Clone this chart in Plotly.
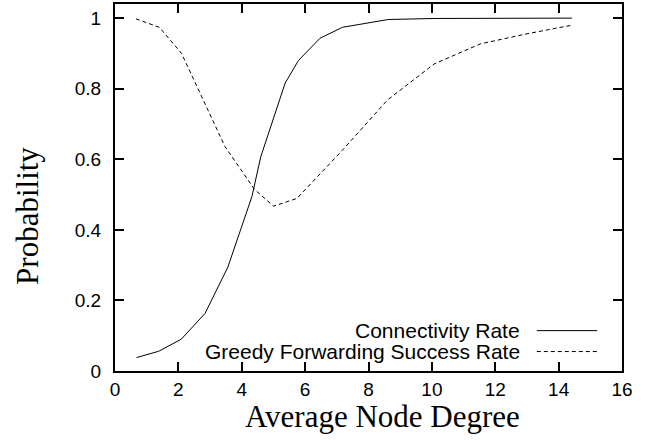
import plotly.graph_objects as go

# Connectivity Rate (solid)
conn_x = [0.68, 1.38, 2.09, 2.84, 3.56, 4.32, 4.6, 5.37, 5.79, 6.47, 7.18, 8.62, 10.07, 11.53, 12.97, 14.42]
conn_y = [0.038, 0.056, 0.090, 0.163, 0.294, 0.494, 0.607, 0.816, 0.880, 0.943, 0.974, 0.996, 0.999, 1.0, 1.0, 1.0]

# Greedy Forwarding Success Rate (dashed)
greedy_x = [0.66, 1.40, 2.10, 3.47, 4.40, 5.00, 5.74, 7.17, 8.60, 10.07, 11.53, 12.97, 14.42]
greedy_y = [0.998, 0.974, 0.900, 0.636, 0.515, 0.467, 0.489, 0.625, 0.768, 0.870, 0.927, 0.955, 0.980]

x_ticks = [0, 2, 4, 6, 8, 10, 12, 14, 16]
y_ticks = [0, 0.2, 0.4, 0.6, 0.8, 1]
y_tick_labels = ["0", "0.2", "0.4", "0.6", "0.8", "1"]

series_names = ["Connectivity Rate", "Greedy Forwarding Success Rate"]
x_title = "Average Node Degree"
y_title = "Probability"

fig = go.Figure()
fig.add_trace(go.Scatter(x=conn_x, y=conn_y, mode="lines", name=series_names[0],
                         line=dict(color="black", width=1)))
fig.add_trace(go.Scatter(x=greedy_x, y=greedy_y, mode="lines", name=series_names[1],
                         line=dict(color="black", width=1, dash="4px,3px")))

axis_common = dict(showgrid=False, zeroline=False, showline=True, linecolor="black",
                   linewidth=2, mirror="allticks", ticks="inside", ticklen=9,
                   tickwidth=1.5, tickcolor="black", automargin=False,
                   tickfont=dict(family="Liberation Sans, Arial, sans-serif", size=19, color="black"))

fig.update_xaxes(range=[0, 16], tickvals=x_ticks, ticktext=[str(t) for t in x_ticks],
                 ticklabelstandoff=0, **axis_common)
fig.update_yaxes(range=[0, 1.04], tickvals=y_ticks, ticktext=y_tick_labels,
                 ticklabelstandoff=8, **axis_common)

title_font = dict(family="Liberation Serif, Times New Roman, serif", size=31, color="black")
fig.add_annotation(x=0.528, y=-0.124, xref="paper", yref="paper", text=x_title,
                   showarrow=False, xanchor="center", yanchor="middle", font=title_font)
fig.add_annotation(x=-0.174, y=0.422, xref="paper", yref="paper", text=y_title,
                   showarrow=False, xanchor="center", yanchor="middle", textangle=-90,
                   font=title_font)

# legend drawn gnuplot-style: right-aligned text with line sample to the right
leg_rows = [0.110, 0.053]
dashes = ["solid", "4px,3px"]
for name, yy, dsh in zip(series_names, leg_rows, dashes):
    fig.add_annotation(x=0.802, y=yy, xref="paper", yref="paper", text=name,
                       showarrow=False, xanchor="right", yanchor="middle",
                       font=dict(family="Liberation Sans, Arial, sans-serif", size=21, color="black"))
    fig.add_shape(type="line", xref="paper", yref="paper", x0=0.832, x1=0.951, y0=yy, y1=yy,
                  line=dict(color="black", width=1, dash=dsh))

fig.update_layout(width=649, height=440, showlegend=False,
                  plot_bgcolor="white", paper_bgcolor="white",
                  margin=dict(l=115, r=27, t=4, b=69))

fig.write_html("out.html", config={"displayModeBar": False},
               post_script="document.body.style.margin='0px';")
